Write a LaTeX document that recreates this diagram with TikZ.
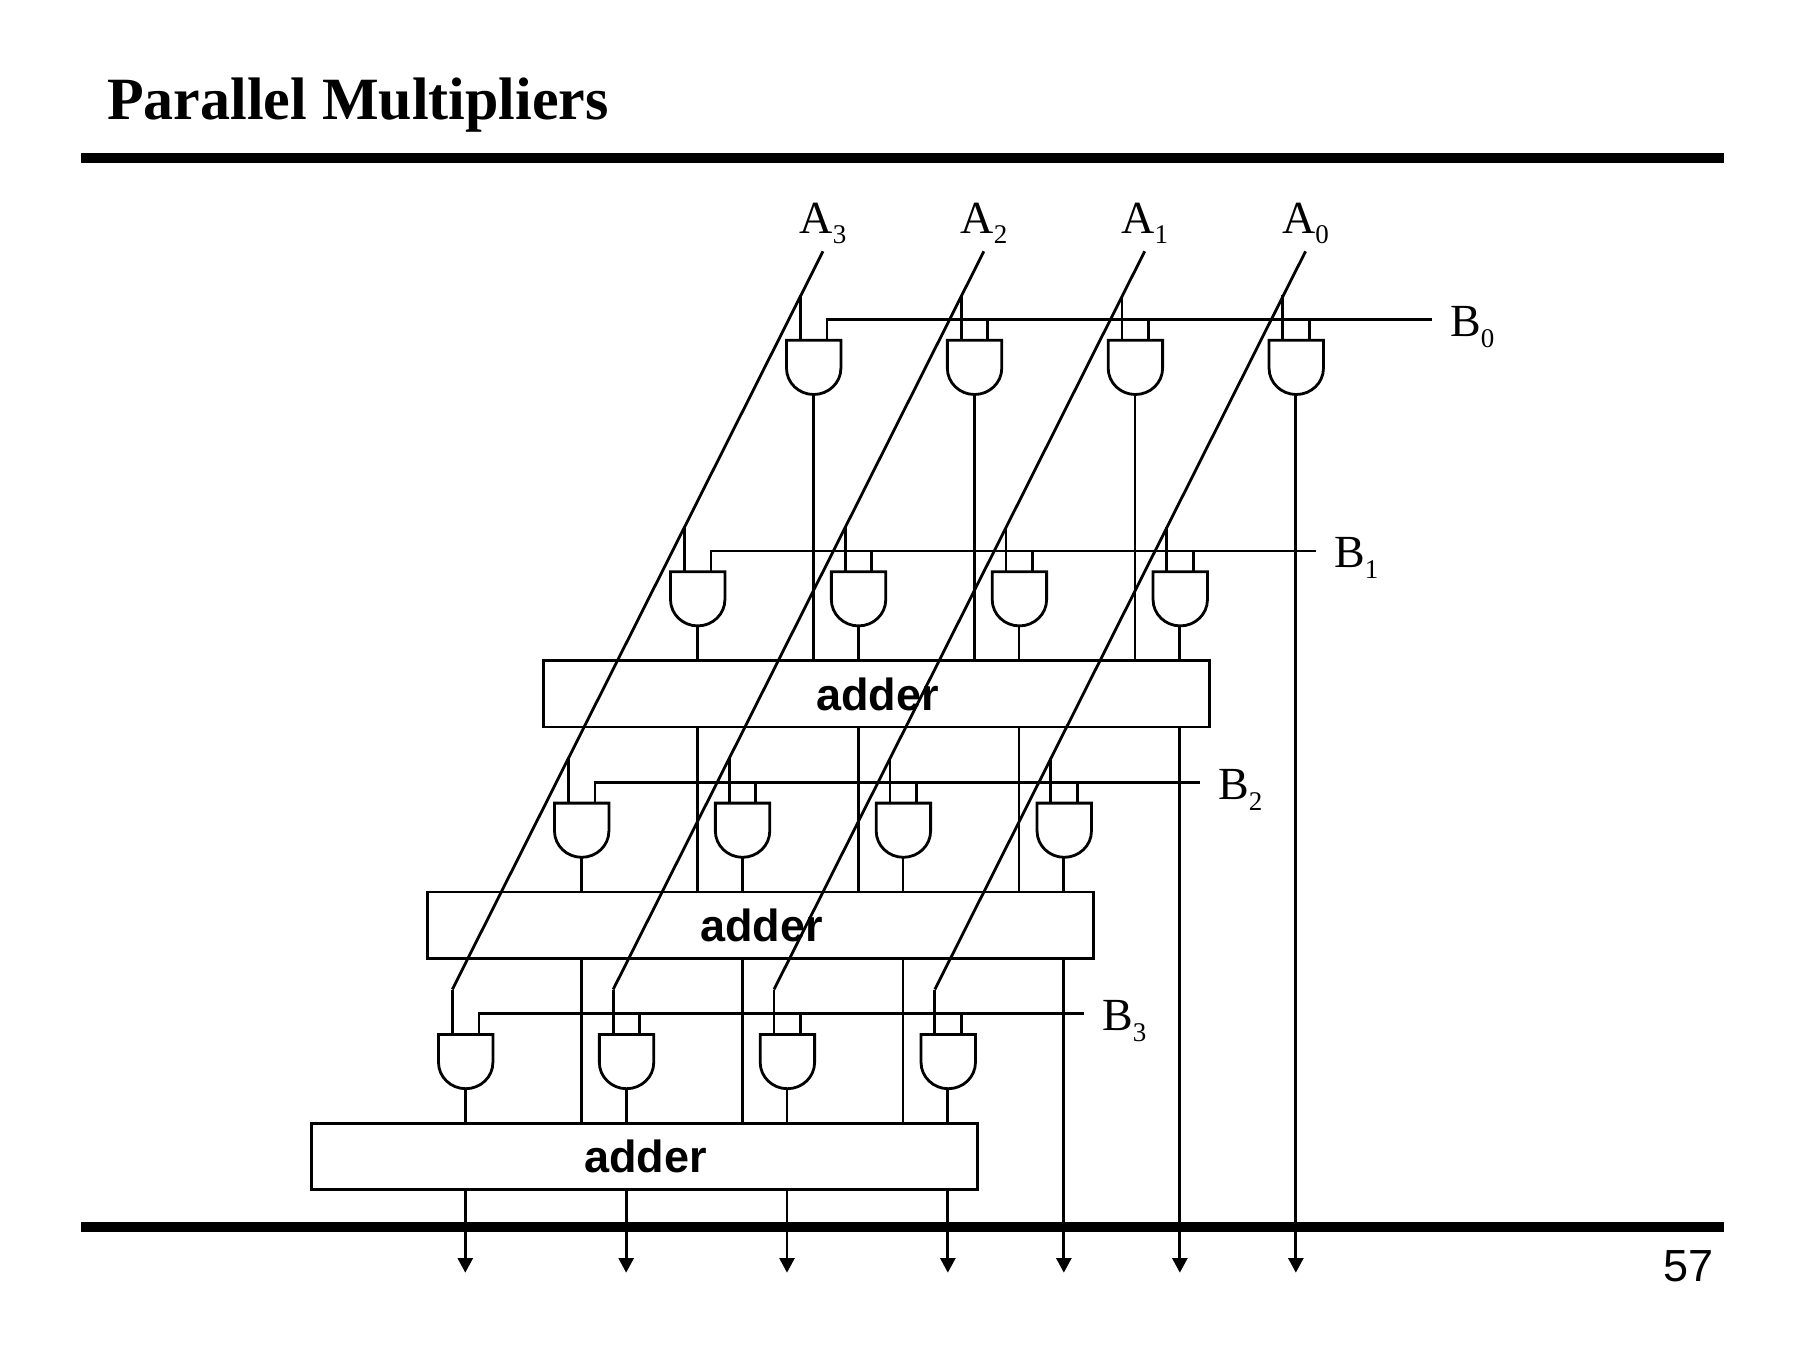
\documentclass[tikz,border=0pt]{standalone}
\usepackage{fontspec}
\setmainfont{Liberation Serif}
\setsansfont{Liberation Sans}
\usetikzlibrary{arrows.meta}
\newcommand{\sublabel}[2]{#1\raisebox{-10.7pt}{\fontsize{27}{27}\selectfont #2}}
\tikzset{
  wire/.style={line width=2.8pt,black},
  rulebar/.style={line width=10pt,black},
  gateshape/.style={line width=2.8pt,black,fill=white,line join=miter},
  adderbox/.style={draw=black,line width=2.8pt,minimum width=666.5pt,minimum height=66.4pt,inner sep=0pt,font=\sffamily\bfseries\fontsize{45}{45}\selectfont,text depth=-8pt},
  signal/.style={inner sep=0pt,anchor=base west,font=\fontsize{46}{46}\selectfont},
  outarrow/.style={wire,-{Triangle[length=14.7pt,width=15pt]}},
}
\begin{document}
\begin{tikzpicture}[x=1pt,y=-1pt]
\useasboundingbox (0,0) rectangle (1800,1350);
\fill[white] (0,0) rectangle (1800,1350);
% title and rules
\node[inner sep=0pt,anchor=base west,font=\bfseries\fontsize{60}{60}\selectfont] (title) at (107,119.5) {Parallel Multipliers};
\coordinate (ruleTopL) at (81,158);
\coordinate (ruleTopR) at (1724,158);
\coordinate (ruleBotL) at (81,1226.8);
\coordinate (ruleBotR) at (1724,1226.8);
\draw[rulebar] (ruleTopL) -- (ruleTopR);
\draw[rulebar] (ruleBotL) -- (ruleBotR);
\node[inner sep=0pt,anchor=base east,font=\sffamily\fontsize{45}{45}\selectfont] (page) at (1714,1281.5) {57};
% adders
\foreach \r in {1,2,3}{
  \pgfmathsetmacro{\ax}{876.6+116*(1-\r)}
  \pgfmathsetmacro{\ay}{693.8+231.4*(\r-1)}
  \node[adderbox] (adder\r) at (\ax,\ay) {\hspace{2pt}adder};
}
% gates
\foreach \r in {0,1,2,3}{
  \foreach \c in {0,1,2,3}{
    \pgfmathsetmacro{\cx}{813.3+160.85*\c-116*\r}
    \pgfmathsetmacro{\gx}{\cx+0.4}
    \pgfmathsetmacro{\t}{340.3+231.4*\r}
    \pgfmathsetmacro{\lx}{\gx-27.2}
    \pgfmathsetmacro{\rx}{\gx+27.2}
    \pgfmathsetmacro{\sy}{\t+28}
    \pgfmathsetmacro{\by}{\t+54.2}
    \pgfmathsetmacro{\cy}{\t+42.4}
    \pgfmathsetmacro{\cl}{\gx-15}
    \pgfmathsetmacro{\cm}{\gx+15}
    \coordinate (in1-\r-\c) at (\cx-13,\t);
    \coordinate (in2-\r-\c) at (\cx+13.7,\t);
    \coordinate (tap-\r-\c) at (\cx-13,\t-45);
    \coordinate (bus-\r-\c) at (\cx+13.7,\t-21);
    \coordinate (out-\r-\c) at (\cx,\by);
    \coordinate (end-\r-\c) at (\cx,1272.7);
    \draw[gateshape] (\lx,\t) -- (\rx,\t) -- (\rx,\sy)
      .. controls (\rx,\cy) and (\cm,\by) .. (\gx,\by)
      .. controls (\cl,\by) and (\lx,\cy) .. (\lx,\sy) -- cycle;
    \draw[wire] (tap-\r-\c) -- (in1-\r-\c);
    \draw[wire] (bus-\r-\c) -- (in2-\r-\c);
  }
}
% A inputs
\foreach \c/\n in {0/3,1/2,2/1,3/0}{
  \pgfmathsetmacro{\lx}{799.5+160.85*\c}
  \pgfmathsetmacro{\tx}{823+160.85*\c}
  \node[signal] (labelA\n) at (\lx,233) {\sublabel{A}{\n}};
  \coordinate (startA\n) at (\tx,251.3);
  \draw[wire,line join=bevel] (startA\n) -- (tap-3-\c);
}
% B inputs
\foreach \r in {0,1,2,3}{
  \pgfmathsetmacro{\ex}{1431.6-116*\r}
  \pgfmathsetmacro{\ey}{319.5+231.4*\r}
  \pgfmathsetmacro{\lx}{1450-116*\r}
  \pgfmathsetmacro{\ly}{336.5+231.4*\r}
  \node[signal] (labelB\r) at (\lx,\ly) {\sublabel{B}{\r}};
  \coordinate (endB\r) at (\ex,\ey);
  \draw[wire] (in2-\r-0) |- (endB\r);
}
% gate outputs into adders and onward
\foreach \c in {0,1,2}{
  \draw[wire] (out-0-\c) -- (adder1.north -| out-0-\c);
  \draw[wire] (adder1.south -| out-1-\c) -- (adder2.north -| out-1-\c);
  \draw[wire] (adder2.south -| out-2-\c) -- (adder3.north -| out-2-\c);
}
\foreach \r/\a in {1/1,2/2,3/3}{
  \foreach \c in {0,1,2,3}{
    \draw[wire] (out-\r-\c) -- (adder\a.north -| out-\r-\c);
  }
}
\draw[outarrow] (out-0-3) -- (end-0-3);
\draw[outarrow] (adder1.south -| out-1-3) -- (end-1-3);
\draw[outarrow] (adder2.south -| out-2-3) -- (end-2-3);
\foreach \c in {0,1,2,3}{
  \draw[outarrow] (adder3.south -| out-3-\c) -- (end-3-\c);
}
\end{tikzpicture}
\end{document}
